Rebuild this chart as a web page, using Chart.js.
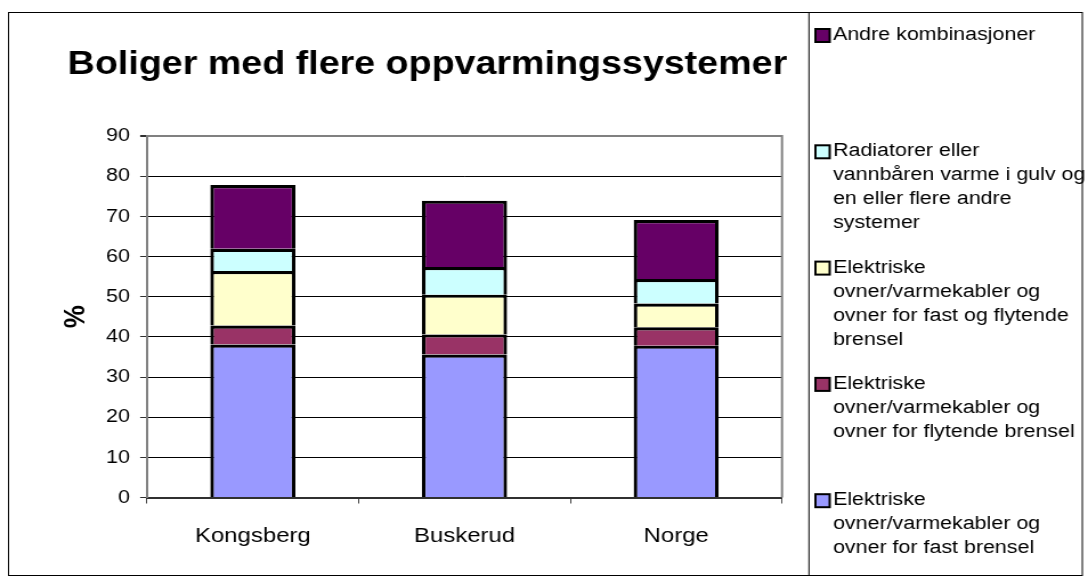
<!DOCTYPE html>
<html><head><meta charset="utf-8">
<script src="https://cdn.jsdelivr.net/npm/chart.js@4/dist/chart.umd.min.js"></script>
<style>
html,body{margin:0;padding:0;background:#fff;overflow:hidden;}
#wrap{width:954px;height:576px;transform:scaleX(1.14046);transform-origin:0 0;}
canvas{display:block;}
</style></head><body>
<div id="wrap"><canvas id="c" width="954" height="576"></canvas></div>
<script>
// ---- data ----
const categories = ['Kongsberg', 'Buskerud', 'Norge'];
const legendLines = [
  ['Elektriske', 'ovner/varmekabler og', 'ovner for fast brensel'],
  ['Elektriske', 'ovner/varmekabler og', 'ovner for flytende brensel'],
  ['Elektriske', 'ovner/varmekabler og', 'ovner for fast og flytende', 'brensel'],
  ['Radiatorer eller', 'vannbåren varme i gulv og', 'en eller flere andre', 'systemer'],
  ['Andre kombinasjoner']
];
const fastBrensel      = [38.1, 35.6, 37.8];
const flytendeBrensel  = [4.7, 5.0, 4.6];
const fastOgFlytende   = [13.6, 9.9, 5.9];
const radiatorer       = [5.5, 6.9, 6.1];
const andreKomb        = [15.9, 16.5, 14.7];
const yTicks = [0, 10, 20, 30, 40, 50, 60, 70, 80, 90];
const chartTitle = 'Boliger med flere oppvarmingssystemer';
const yAxisTitle = '%';

const seriesValues = [fastBrensel, flytendeBrensel, fastOgFlytende, radiatorer, andreKomb];
const seriesColors = ['#9999FF', '#993366', '#FFFFCC', '#CCFFFF', '#660066'];

const FONT = '"Liberation Sans", Arial, sans-serif';

const datasets = seriesValues.map((vals, i) => ({
  label: legendLines[i].join(' '),
  data: vals,
  backgroundColor: seriesColors[i],
  borderColor: '#000000',
  borderWidth: 3.2,
  borderSkipped: 'start',
  inflateAmount: 0,
  barPercentage: 0.402,
  categoryPercentage: 1.0
}));

const framePlugin = {
  id: 'frame',
  beforeDatasetsDraw(chart) {
    const {ctx, chartArea: a} = chart;
    ctx.save();
    ctx.strokeStyle = '#808080';
    ctx.lineWidth = 2;
    ctx.beginPath();
    ctx.moveTo(a.right, a.top - 1);
    ctx.lineTo(a.right, a.bottom);
    ctx.stroke();
    ctx.restore();
  },
  afterDraw(chart) {
    const {ctx} = chart;
    ctx.save();
    // outer frame
    ctx.strokeStyle = '#000';
    ctx.lineWidth = 1;
    ctx.strokeRect(7.5, 12.5, 941.5, 563);
    ctx.beginPath();
    ctx.moveTo(709.3, 12.5);
    ctx.lineTo(709.3, 575.5);
    ctx.stroke();
    // title
    ctx.fillStyle = '#000';
    ctx.font = 'bold 33px ' + FONT;
    ctx.textAlign = 'center';
    ctx.textBaseline = 'alphabetic';
    ctx.fillText(chartTitle, 374.8, 74.3);
    // legend (reverse order)
    ctx.font = '18.8px ' + FONT;
    ctx.textAlign = 'left';
    ctx.textBaseline = 'middle';
    const n = chart.data.datasets.length;
    for (let i = 0; i < n; i++) {
      const di = n - 1 - i;
      const ds = chart.data.datasets[di];
      const y0 = 35 + i * 116.3;
      ctx.fillStyle = ds.backgroundColor;
      ctx.fillRect(715, y0 - 6, 12.5, 13);
      ctx.strokeStyle = '#000';
      ctx.lineWidth = 2;
      ctx.strokeRect(715, y0 - 6, 12.5, 13);
      ctx.fillStyle = '#000';
      legendLines[di].forEach((line, k) => {
        ctx.fillText(line, 730.4, y0 + k * 24);
      });
    }
    ctx.restore();
  }
};

new Chart(document.getElementById('c'), {
  type: 'bar',
  data: { labels: categories, datasets },
  options: {
    responsive: false,
    animation: false,
    devicePixelRatio: 1,
    layout: { padding: { left: 0, top: 136, right: 268.3, bottom: 0 } },
    plugins: { legend: { display: false }, title: { display: false }, tooltip: { enabled: false } },
    scales: {
      x: {
        stacked: true,
        afterFit(s) { s.height = 78.5; },
        grid: { offset: true, drawOnChartArea: false, drawTicks: true, tickLength: 6, color: '#404040', tickColor: '#404040' },
        border: { display: true, color: '#303030', width: 2 },
        ticks: { color: '#000', font: { family: FONT, size: 21 }, padding: 20 }
      },
      y: {
        stacked: true,
        min: 0, max: 90,
        afterFit(s) { s.width = 128.9; },
        afterBuildTicks(s) { s.ticks = yTicks.map(v => ({ value: v })); },
        grid: {
          color: c => (c.tick && c.tick.value === 90) ? '#808080' : '#000',
          lineWidth: c => (c.tick && c.tick.value === 90) ? 2 : 1,
          tickLength: 6,
          tickColor: '#303030'
        },
        border: { display: true, color: '#808080', width: 2 },
        ticks: { color: '#000', font: { family: FONT, size: 18.8 }, padding: 9, stepSize: 10 },
        title: { display: true, text: yAxisTitle, color: '#000', font: { family: FONT, size: 26, weight: 'bold' }, padding: { top: 51, bottom: 0 } }
      }
    }
  },
  plugins: [framePlugin]
});
</script>
</body></html>
